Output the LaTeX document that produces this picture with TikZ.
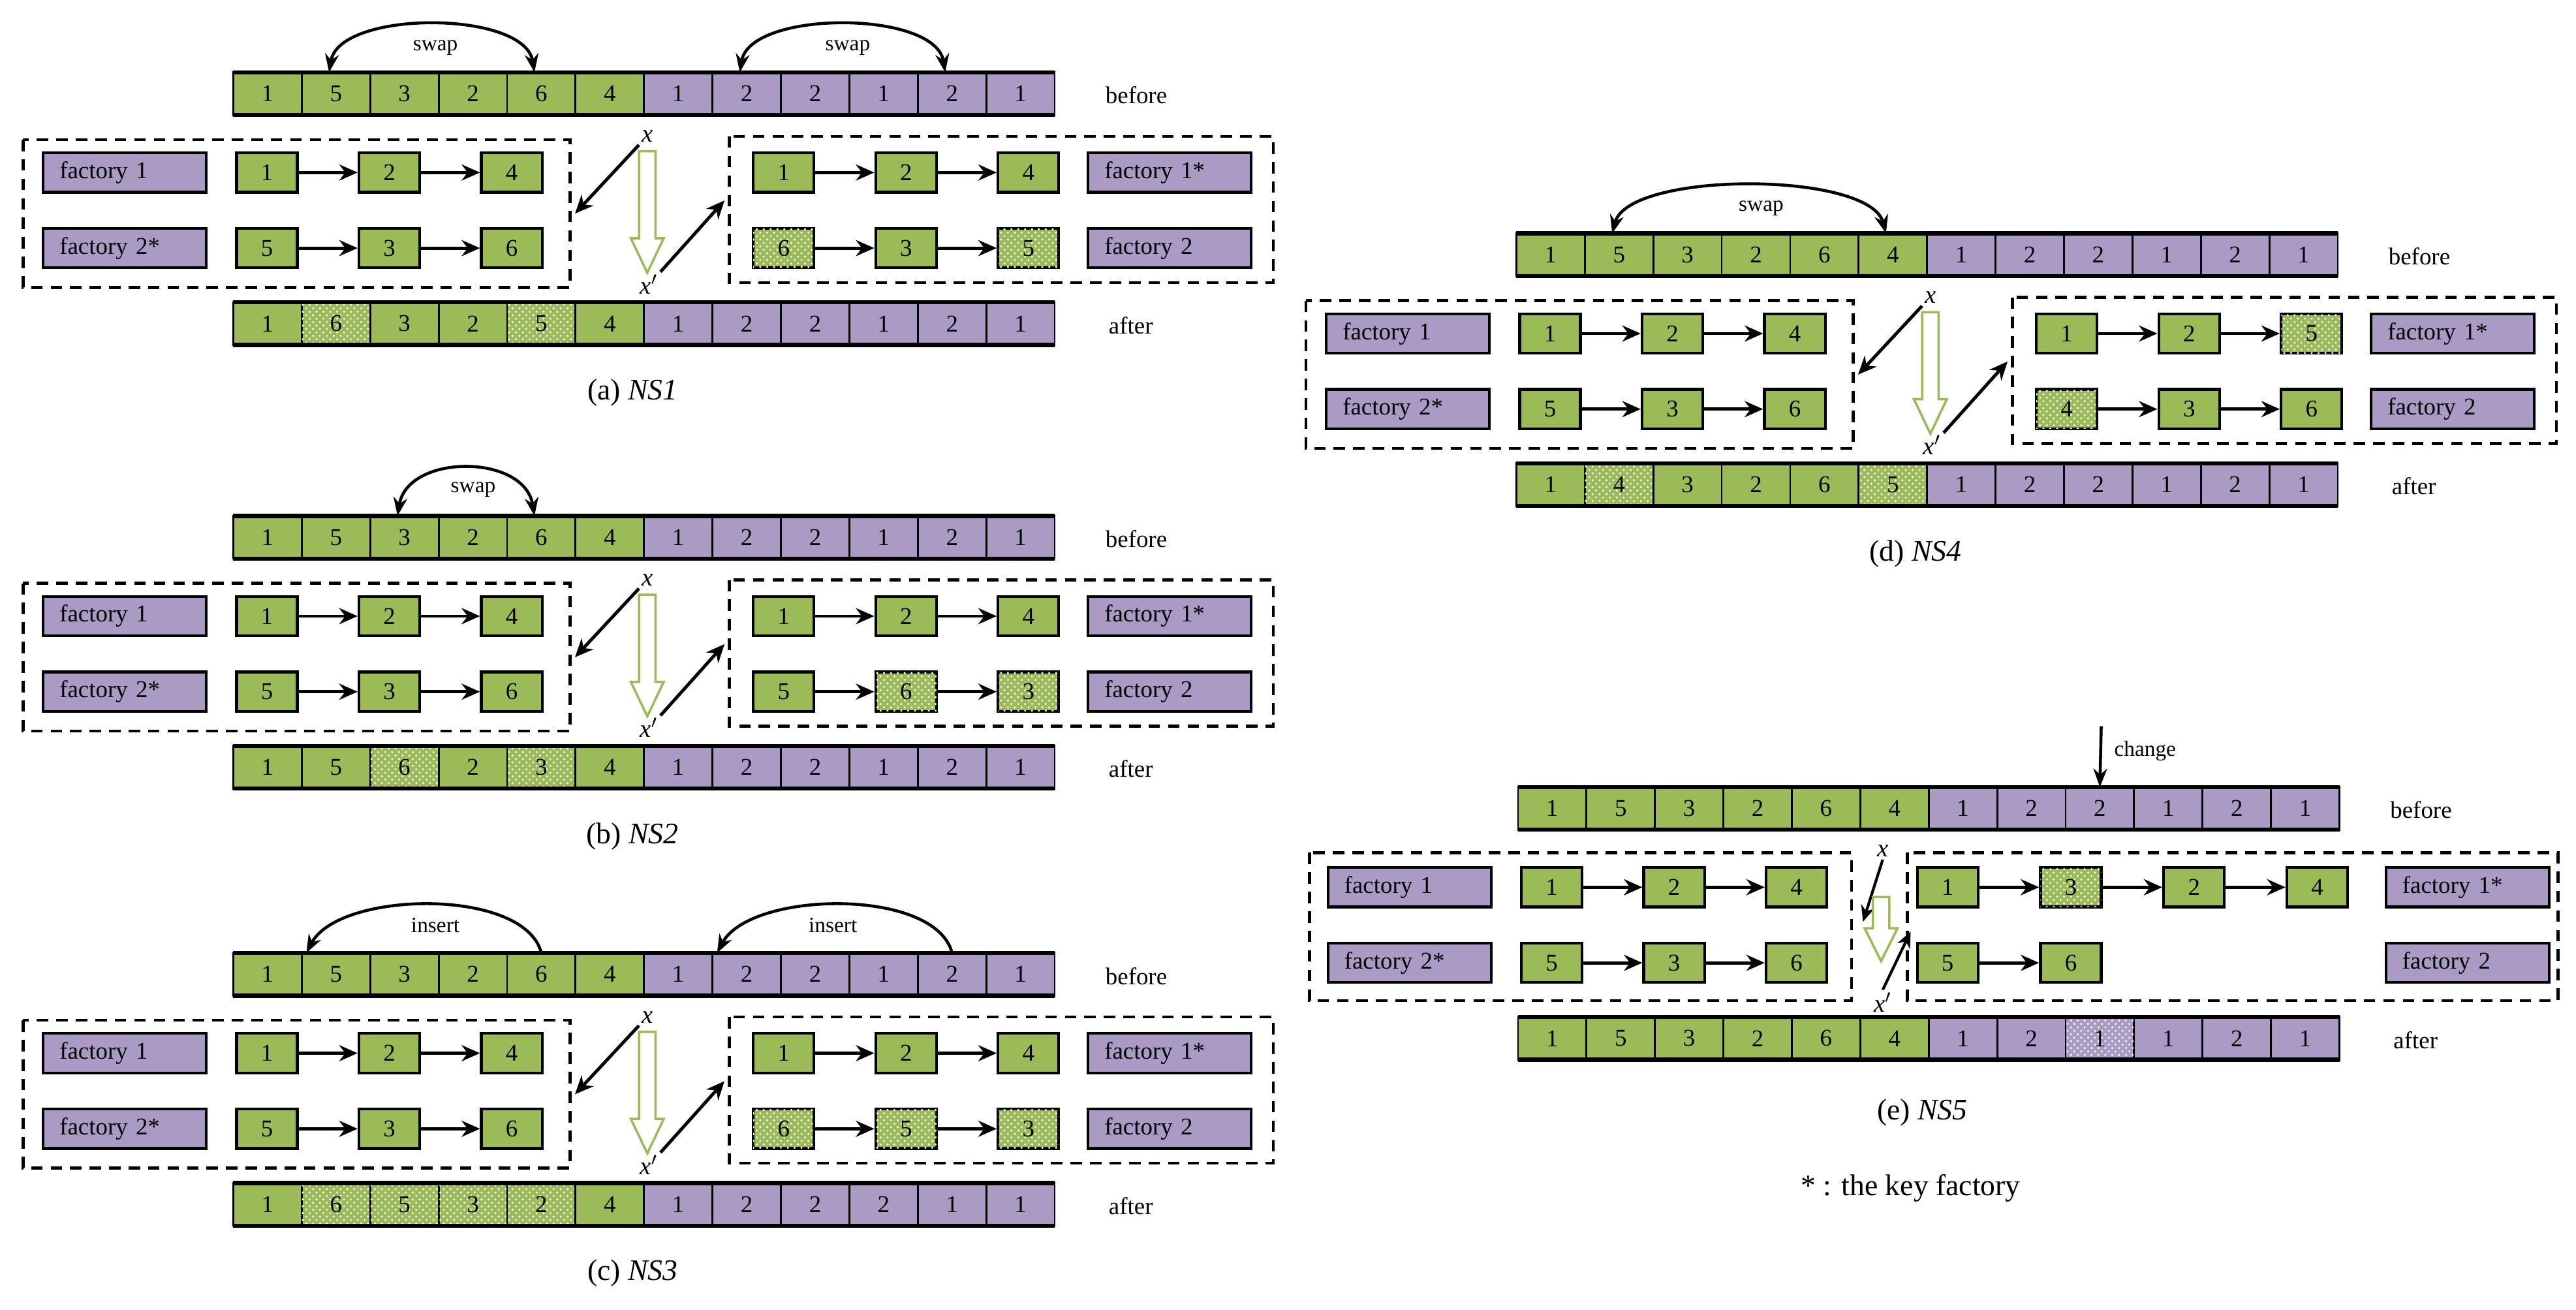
\documentclass[tikz,border=0pt]{standalone}
\usepackage{fontspec}
\setmainfont{Liberation Serif}
\usetikzlibrary{arrows.meta,patterns}
\definecolor{grn}{HTML}{9BBB59}
\definecolor{pur}{HTML}{A99BC4}
\newcommand\fs{\fontsize{10.5}{12}\selectfont}
\tikzset{
 cell/.style={draw,line width=0.8pt,minimum width=1.0488cm,minimum height=0.654cm,inner sep=0,outer sep=0,font=\fs},
 g/.style={fill=grn}, p/.style={fill=pur},
 gd/.style={fill=grn,postaction={pattern=crosshatch dots,pattern color=white}},
 pd/.style={fill=pur,postaction={pattern=crosshatch dots,pattern color=white}},
 sb/.style={draw,line width=1.2pt,minimum width=0.931cm,minimum height=0.604cm,inner sep=0,font=\fs},
 fb/.style={draw,fill=pur,line width=1.2pt,minimum height=0.604cm,text width=2.0cm,inner xsep=0.25cm,inner ysep=0,align=left,font=\fs},
 arr/.style={line width=1.4pt,-{Stealth[length=8pt,width=7pt]}},
 arc2/.style={line width=1.3pt,{Stealth[length=8pt,width=6pt]}-{Stealth[length=8pt,width=6pt]}},
 arc1/.style={line width=1.3pt,-{Stealth[length=8pt,width=6pt]}},
 dbox/.style={line width=1.3pt,dash pattern=on 5pt off 3.5pt},
 lbl/.style={font=\fs,anchor=west},
 xl/.style={font=\fontsize{11}{12}\selectfont,inner sep=1pt},
 captxt/.style={font=\fontsize{13}{15}\selectfont},
 sw/.style={font=\fontsize{9.5}{11}\selectfont},
 hollow/.style={draw=grn,line width=1pt,fill=white},
}
\newcommand\seqrow[3]{%
 \foreach \v/\t [count=\i] in {#3}{\node[cell,\t] (#1-\i) at ({142+(\i-0.5)*41.667},{#2+13}) {\v};}
 \draw[line width=1.8pt] (#1-1.north west) -- (#1-12.north east) (#1-1.south west) -- (#1-12.south east);
}
\newcommand\panel[8]{%
\begin{scope}[shift={(#2,#3)}]
 \seqrow{#1t}{44}{#4}
 \seqrow{#1a}{184}{#5}
 \node[lbl] (#1bef) at (668,58) {before};
 \node[lbl] (#1aft) at (670,198) {after};
 \draw[dbox] (14,85) rectangle (347,175);
 \draw[dbox] (444,83) rectangle (775,172);
 \node[fb] (#1f1) at (76,105) {factory 1};
 \node[fb] (#1f2) at (76,151) {factory 2*};
 \node[fb] (#1f3) at (712,105) {factory 1*};
 \node[fb] (#1f4) at (712,151) {factory 2};
 \foreach \v [count=\i] in {1,2,4} \node[sb,g] (#1L\i) at ({162.5+(\i-1)*74.5},105) {\v};
 \foreach \v [count=\i] in {5,3,6} \node[sb,g] (#1M\i) at ({162.5+(\i-1)*74.5},151) {\v};
 \foreach \v/\t [count=\i] in {#6} \node[sb,\t] (#1R\i) at ({477+(\i-1)*74.5},105) {\v};
 \foreach \v/\t [count=\i] in {#7} \node[sb,\t] (#1S\i) at ({477+(\i-1)*74.5},151) {\v};
 \foreach \i/\j in {1/2,2/3} {\draw[arr] (#1L\i) -- (#1L\j); \draw[arr] (#1M\i) -- (#1M\j);
   \draw[arr] (#1R\i) -- (#1R\j); \draw[arr] (#1S\i) -- (#1S\j);}
 \node[xl] (#1x) at (394,83) {\textit{x}};
 \node[xl] (#1xp) at (395,173) {\textit{x}$'$};
 \coordinate (#1c1) at (350,130);
 \coordinate (#1c2) at (441,122);
 \draw[arr] (#1x.south west) -- (#1c1);
 \draw[arr] (#1xp.north east) -- (#1c2);
 \draw[hollow] (389,92) -- (399,92) -- (399,145) -- (404,145) -- (394,166) -- (384,145) -- (389,145) -- cycle;
 \node[captxt] (#1cap) at (385,239) {#8};
\end{scope}}
\begin{document}
\begin{tikzpicture}[x=0.025171cm,y=-0.025171cm]
\useasboundingbox (0,0) rectangle (1568,797);
% (a)
\panel{a}{0}{0}{1/g,5/g,3/g,2/g,6/g,4/g,1/p,2/p,2/p,1/p,2/p,1/p}{1/g,6/gd,3/g,2/g,5/gd,4/g,1/p,2/p,2/p,1/p,2/p,1/p}{1/g,2/g,4/g}{6/gd,3/g,5/gd}{(a) \textit{NS1}}
\draw[arc2] ([xshift=-3pt]at-2.north) .. controls +(6,-38) and +(-6,-38) .. ([xshift=-3pt]at-5.north);
\node[sw] (asw1) at (265,29) {swap};
\draw[arc2] ([xshift=-3pt]at-8.north) .. controls +(6,-38) and +(-6,-38) .. ([xshift=-3pt]at-11.north);
\node[sw] (asw2) at (516,29) {swap};
% (b)
\panel{b}{0}{270}{1/g,5/g,3/g,2/g,6/g,4/g,1/p,2/p,2/p,1/p,2/p,1/p}{1/g,5/g,6/gd,2/g,3/gd,4/g,1/p,2/p,2/p,1/p,2/p,1/p}{1/g,2/g,4/g}{5/g,6/gd,3/gd}{(b) \textit{NS2}}
\draw[arc2] ([xshift=-3pt]bt-3.north) .. controls +(6,-38) and +(-6,-38) .. ([xshift=-3pt]bt-5.north);
\node[sw] (bsw1) at (288,298) {swap};
% (c)
\panel{c}{0}{536}{1/g,5/g,3/g,2/g,6/g,4/g,1/p,2/p,2/p,1/p,2/p,1/p}{1/g,6/gd,5/gd,3/gd,2/gd,4/g,1/p,2/p,2/p,2/p,1/p,1/p}{1/g,2/g,4/g}{6/gd,5/gd,3/gd}{(c) \textit{NS3}}
\draw[arc1] (ct-5.north) .. controls +(-10,-40) and +(20,-38) .. ([xshift=2pt]ct-2.north west);
\node[sw] (csw1) at (265,563) {insert};
\draw[arc1] (ct-11.north) .. controls +(-10,-40) and +(20,-38) .. ([xshift=2pt]ct-8.north west);
\node[sw] (csw2) at (507,563) {insert};
% (d)
\panel{d}{781}{98}{1/g,5/g,3/g,2/g,6/g,4/g,1/p,2/p,2/p,1/p,2/p,1/p}{1/g,4/gd,3/g,2/g,6/g,5/gd,1/p,2/p,2/p,1/p,2/p,1/p}{1/g,2/g,5/gd}{4/gd,3/g,6/g}{(d) \textit{NS4}}
\draw[arc2] ([xshift=-3pt]dt-2.north) .. controls +(10,-38) and +(-10,-38) .. ([xshift=-3pt]dt-6.north);
\node[sw] (dsw1) at (1072,127) {swap};
% (e)
\begin{scope}[shift={(782,435)}]
 \seqrow{et}{44}{1/g,5/g,3/g,2/g,6/g,4/g,1/p,2/p,2/p,1/p,2/p,1/p}
 \seqrow{ea}{184}{1/g,5/g,3/g,2/g,6/g,4/g,1/p,2/p,1/pd,1/p,2/p,1/p}
 \node[lbl] (ebef) at (668,58) {before};
 \node[lbl] (eaft) at (670,198) {after};
 \coordinate (ech) at (497,7);
 \draw[arc1] (ech) -- (et-9.north);
 \node[sw,anchor=west] (echl) at (500,22) {change};
 \draw[dbox] (15,84) rectangle (345,174);
 \draw[dbox] (379,84) rectangle (775,174);
 \node[fb] (ef1) at (76,105) {factory 1};
 \node[fb] (ef2) at (76,151) {factory 2*};
 \node[fb] (ef3) at (720,105) {factory 1*};
 \node[fb] (ef4) at (720,151) {factory 2};
 \foreach \v [count=\i] in {1,2,4} \node[sb,g] (eL\i) at ({162.5+(\i-1)*74.5},105) {\v};
 \foreach \v [count=\i] in {5,3,6} \node[sb,g] (eM\i) at ({162.5+(\i-1)*74.5},151) {\v};
 \foreach \v/\t [count=\i] in {1/g,3/gd,2/g,4/g} \node[sb,\t] (eR\i) at ({403.5+(\i-1)*75},105) {\v};
 \foreach \v/\t [count=\i] in {5/g,6/g} \node[sb,\t] (eS\i) at ({403.5+(\i-1)*75},151) {\v};
 \foreach \i/\j in {1/2,2/3} {\draw[arr] (eL\i) -- (eL\j); \draw[arr] (eM\i) -- (eM\j);}
 \foreach \i/\j in {1/2,2/3,3/4} \draw[arr] (eR\i) -- (eR\j);
 \draw[arr] (eS1) -- (eS2);
 \node[xl] (ex) at (364,83) {\textit{x}};
 \node[xl] (exp) at (364,175) {\textit{x}$'$};
 \coordinate (ec1) at (352,126);
 \coordinate (ec2) at (381,132);
 \draw[line width=1.2pt,-{Stealth[length=7pt,width=6pt]}] (ex.south) -- (ec1);
 \draw[line width=1.2pt,-{Stealth[length=7pt,width=6pt]}] (exp.north) -- (ec2);
 \draw[hollow] (358,111) -- (368,111) -- (368,130) -- (373,130) -- (363,150) -- (353,130) -- (358,130) -- cycle;
 \node[captxt] (ecap) at (388,242) {(e) \textit{NS5}};
 \node[captxt] (enote) at (381,288) {* : the key factory};
\end{scope}
\end{tikzpicture}
\end{document}
